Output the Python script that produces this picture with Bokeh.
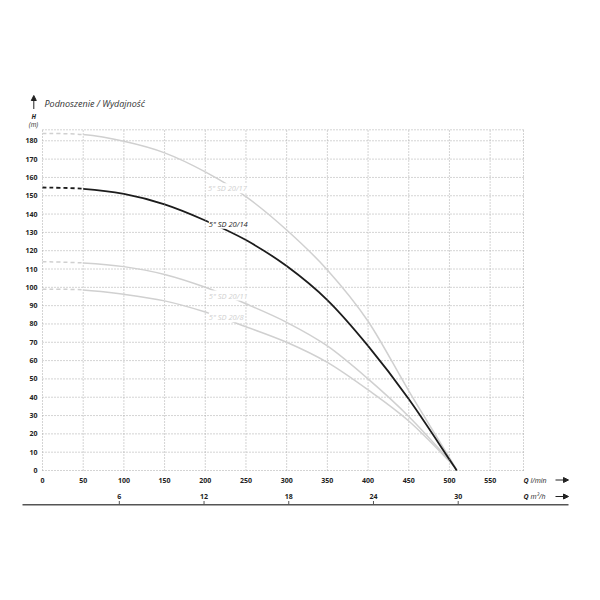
from bokeh.plotting import figure
from bokeh.models import Range1d, Arrow, NormalHead
from bokeh.core.properties import value
from bokeh.embed import file_html
from bokeh.resources import INLINE

# ---------------- data ----------------
q_lmin = [0, 50, 100, 150, 200, 250, 300, 350, 400, 450, 500, 509]
h_sd20_17 = [184, 183.4, 179.7, 173.4, 163.0, 149.5, 131.3, 109.5, 81.5, 43.5, 7.0, 0]
h_sd20_14 = [154.5, 153.8, 151.0, 145.3, 136.5, 125.8, 111.6, 93.0, 68.0, 39.0, 6.0, 0]
h_sd20_11 = [114, 113.3, 111.3, 107.0, 100.0, 91.0, 80.9, 68.0, 50.0, 29.5, 5.5, 0]
h_sd20_8 = [99, 98.6, 96.2, 92.6, 86.5, 78.5, 70.0, 59.0, 44.0, 27.0, 5.0, 0]
curve_names = ['5" SD 20/17', '5" SD 20/14', '5" SD 20/11', '5" SD 20/8']

x_ticks = [0, 50, 100, 150, 200, 250, 300, 350, 400, 450, 500, 550]
y_ticks = [0, 10, 20, 30, 40, 50, 60, 70, 80, 90, 100, 110, 120, 130, 140, 150, 160, 170, 180]
m3h_ticks = [6, 12, 18, 24, 30]
x_max, y_max = 591, 186

title_text = "Podnoszenie / Wydajność"

# ---------------- layout helpers (page pixels -> data) ----------------
W, H = 584, 560
OFF = 0                     # page offset of the canvas
SX = 481.0 / x_max          # px per l/min
SY = 340.7 / y_max          # px per m


def qx(px):
    return (px - 42.0) / SX


def hy(py):
    return (470.0 - py) / SY


def mv(px):
    return (px - 34.1) / 14.12


def smooth_segments(xs, ys):
    """Cubic Bezier pieces passing through every read point (Catmull-Rom)."""
    n = len(xs)
    out = {k: [] for k in ("x0", "y0", "x1", "y1", "cx0", "cy0", "cx1", "cy1")}
    for i in range(n - 1):
        a = max(i - 1, 0)
        b = min(i + 2, n - 1)
        out["x0"].append(xs[i]); out["y0"].append(ys[i])
        out["x1"].append(xs[i + 1]); out["y1"].append(ys[i + 1])
        out["cx0"].append(xs[i] + (xs[i + 1] - xs[a]) / 6.0)
        out["cy0"].append(ys[i] + (ys[i + 1] - ys[a]) / 6.0)
        out["cx1"].append(xs[i + 1] - (xs[b] - xs[i]) / 6.0)
        out["cy1"].append(ys[i + 1] - (ys[b] - ys[i]) / 6.0)
    return out


FONT = value("Open Sans")
GRID = "#a8a8a8"
LIGHT = "#d0d0d0"
DARK = "#1c1c1c"

p = figure(width=W, height=H, output_backend="svg", toolbar_location=None,
           x_range=Range1d(qx(OFF), qx(OFF + W)), y_range=Range1d(hy(OFF + H), hy(OFF)),
           x_axis_location=None, y_axis_location=None, min_border=0,
           outline_line_color=None, background_fill_color="white",
           border_fill_color="white")
p.grid.visible = False
p.extra_x_ranges = {"m3h": Range1d(mv(OFF), mv(OFF + W))}

# ---------------- grid + border ----------------
p.segment(x0=x_ticks + [x_max], y0=0, x1=x_ticks + [x_max], y1=y_max,
          line_color=GRID, line_width=1, line_dash="1 2")
p.segment(x0=0, y0=y_ticks + [y_max], x1=x_max, y1=y_ticks + [y_max],
          line_color=GRID, line_width=1, line_dash="1 2")

# ---------------- curves ----------------
series = [(h_sd20_17, LIGHT, 1.5), (h_sd20_11, LIGHT, 1.5), (h_sd20_8, LIGHT, 1.5),
          (h_sd20_14, DARK, 1.8)]
for h, col, lw in series:
    seg = smooth_segments(q_lmin, h)
    first = {k: v[:1] for k, v in seg.items()}
    rest = {k: v[1:] for k, v in seg.items()}
    p.bezier(line_color=col, line_width=lw, line_dash="4 3", **first)
    p.bezier(line_color=col, line_width=lw, **rest)

# curve labels (white box cuts the curve like in the original)
lab_pos = [(207.5, 187.7), (208.3, 223.3), (208.3, 295.0), (208.3, 316.7)]
lab_col = [LIGHT, DARK, LIGHT, LIGHT]
p.text(x=[qx(a) for a, b in lab_pos], y=[hy(b) for a, b in lab_pos], text=curve_names,
       text_color=lab_col, text_font=FONT, text_font_style="italic",
       text_font_size="7.5px", text_align="left", text_baseline="middle",
       background_fill_color="white")

# ---------------- tick labels ----------------
p.text(x=x_ticks, y=[hy(480)] * len(x_ticks), text=[str(t) for t in x_ticks],
       text_font=FONT, text_font_style="bold", text_font_size="7px", text_color="#222",
       text_align="center", text_baseline="middle")
p.text(x=[qx(37)] * len(y_ticks), y=y_ticks, text=[str(t) for t in y_ticks],
       text_font=FONT, text_font_style="bold", text_font_size="7px", text_color="#222",
       text_align="right", text_baseline="middle")

# secondary m3/h scale
p.segment(x0=qx(22), y0=hy(504.3), x1=qx(568), y1=hy(504.3), line_color="#555", line_width=1.5)
p.segment(x0=m3h_ticks, y0=hy(504.3), x1=m3h_ticks, y1=hy(500.5), x_range_name="m3h",
          line_color="#555", line_width=1)
p.text(x=m3h_ticks, y=[hy(496)] * len(m3h_ticks), text=[str(t) for t in m3h_ticks],
       x_range_name="m3h", text_font=FONT, text_font_style="bold", text_font_size="7px",
       text_color="#222", text_align="center", text_baseline="middle")

# ---------------- unit labels and titles ----------------
for py, unit in [(479.5, "l/min"), (496.0, "m³/h")]:
    p.text(x=[qx(523)], y=[hy(py)], text=["Q"], text_font=FONT, text_font_style="bold italic",
           text_font_size="7px", text_color="#222", text_align="left", text_baseline="middle")
    p.text(x=[qx(530)], y=[hy(py)], text=[unit], text_font=FONT, text_font_style="italic",
           text_font_size="7px", text_color="#222", text_align="left", text_baseline="middle")
    p.add_layout(Arrow(x_start=qx(555), y_start=hy(py), x_end=qx(568), y_end=hy(py),
                       line_color="#222", line_width=1,
                       end=NormalHead(size=5, fill_color="#222", line_color="#222")))

p.add_layout(Arrow(x_start=qx(33.3), y_start=hy(108.5), x_end=qx(33.3), y_end=hy(95),
                   line_color="#222", line_width=1,
                   end=NormalHead(size=5, fill_color="#222", line_color="#222")))
p.text(x=[qx(44)], y=[hy(102.5)], text=[title_text], text_font=FONT, text_font_style="italic",
       text_font_size="9px", text_color="#333", text_align="left", text_baseline="middle")
p.text(x=[qx(33.3)], y=[hy(115.7)], text=["H"], text_font=FONT, text_font_style="bold italic",
       text_font_size="6.5px", text_color="#222", text_align="center", text_baseline="middle")
p.text(x=[qx(33)], y=[hy(124.2)], text=["(m)"], text_font=FONT, text_font_style="italic",
       text_font_size="6.5px", text_color="#222", text_align="center", text_baseline="middle")

open("out.html", "w").write(file_html(p, INLINE))
